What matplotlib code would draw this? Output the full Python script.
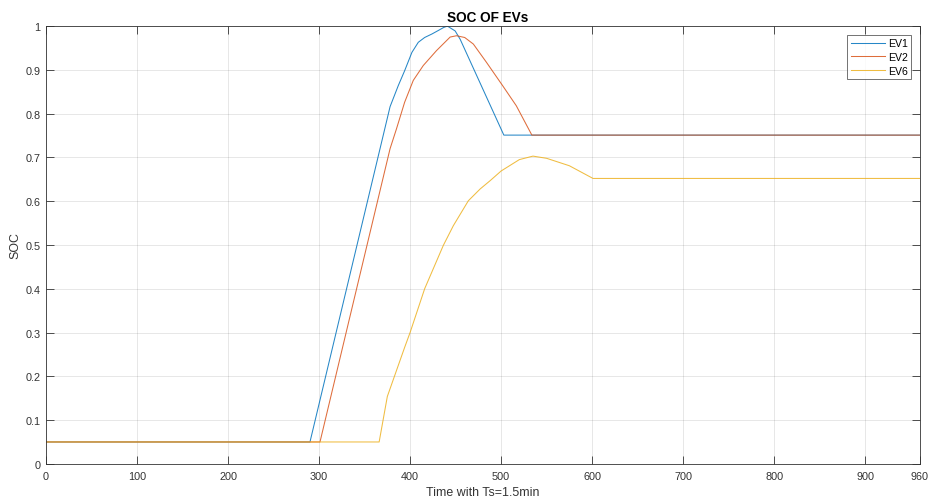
import matplotlib
matplotlib.use("Agg")
import matplotlib.pyplot as plt

plt.rcParams['font.family'] = ['Liberation Sans', 'DejaVu Sans']

ev1_x = [0, 290, 378, 387, 394, 402, 409, 416, 424, 431, 437, 441, 449.5, 455, 503, 960]
ev1_y = [0.05, 0.05, 0.816, 0.864, 0.898, 0.940, 0.963, 0.974, 0.982, 0.990, 0.997, 1.0, 0.989, 0.970, 0.751, 0.751]

ev2_x = [0, 301, 378, 385, 394, 403.5, 414.5, 429, 444, 451, 460, 469.5, 484, 502, 516.7, 533.8, 960]
ev2_y = [0.05, 0.05, 0.72, 0.765, 0.826, 0.876, 0.910, 0.944, 0.975, 0.978, 0.974, 0.959, 0.917, 0.863, 0.818, 0.751, 0.751]

ev6_x = [0, 366, 375, 394, 400, 416, 436.5, 447.5, 464, 477, 488, 500, 520, 535, 550, 575, 601, 960]
ev6_y = [0.05, 0.05, 0.154, 0.266, 0.30, 0.40, 0.499, 0.544, 0.601, 0.628, 0.647, 0.669, 0.695, 0.703, 0.698, 0.681, 0.652, 0.652]

labels = ['EV1', 'EV2', 'EV6']
colors = ['#0072BD', '#D95319', '#EDB120']
xticks = [0, 100, 200, 300, 400, 500, 600, 700, 800, 900, 960]
yticks = [0, 0.1, 0.2, 0.3, 0.4, 0.5, 0.6, 0.7, 0.8, 0.9, 1]
ytick_labels = ['0', '0.1', '0.2', '0.3', '0.4', '0.5', '0.6', '0.7', '0.8', '0.9', '1']

fig = plt.figure(figsize=(9.3, 5.02), dpi=100)
ax = fig.add_axes([0.0495, 0.074, 0.9395, 0.872])

for xs, ys, lab, c in zip([ev1_x, ev2_x, ev6_x], [ev1_y, ev2_y, ev6_y], labels, colors):
    ax.plot(xs, ys, color=c, lw=0.75, label=lab, alpha=0.85)

ax.set_xlim(0, 960)
ax.set_ylim(0, 1)
ax.set_xticks(xticks)
ax.set_yticks(yticks)
ax.set_yticklabels(ytick_labels)
ax.grid(True, color='#262626', alpha=0.13, lw=0.6)
ax.set_axisbelow(True)
for s in ax.spines.values():
    s.set_color('#333333')
    s.set_linewidth(0.6)
ax.tick_params(direction='in', length=6, width=0.6, colors='#333333', labelsize=7.8,
               top=True, right=True)
ax.tick_params(axis='x', pad=5)
ax.tick_params(axis='y', pad=4)
ax.set_title('SOC OF EVs', fontsize=9.8, fontweight='bold', color='black', pad=4, x=0.505)
ax.set_xlabel('Time with Ts=1.5min', fontsize=8.9, color='#333333', labelpad=4)
ax.set_ylabel('SOC', fontsize=8.9, color='#333333', labelpad=3)

leg = ax.legend(loc='upper right', fontsize=7.6, frameon=True, fancybox=False,
                edgecolor='#333333', handlelength=3.2, handletextpad=0.3,
                borderpad=0.35, labelspacing=0.35, borderaxespad=0.8)
leg.get_frame().set_linewidth(0.6)

fig.savefig('out.png', dpi=100)
